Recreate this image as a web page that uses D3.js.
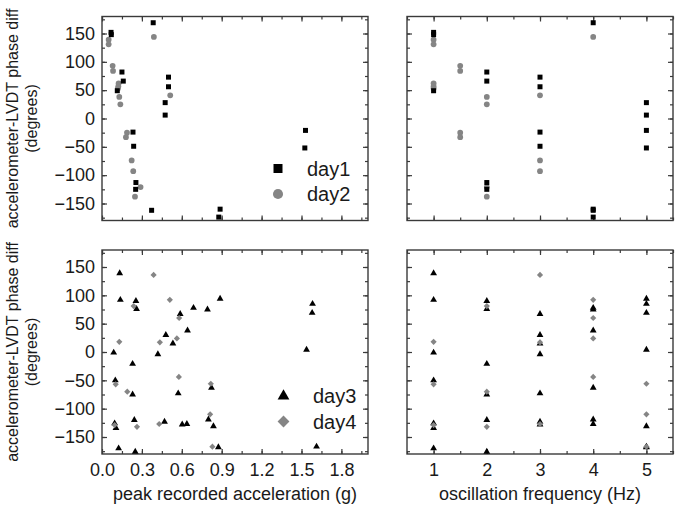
<!DOCTYPE html>
<html>
<head>
<meta charset="utf-8">
<script src="https://cdn.jsdelivr.net/npm/d3@7"></script>
<style>
  body { margin: 0; background: #fff; }
  text { font-family: "Liberation Sans", Arial, sans-serif; fill: #1a1a1a; }
</style>
</head>
<body>
<div id="chart"></div>
<script>
// tick labels
const accTicks = [0, 0.3, 0.6, 0.9, 1.2, 1.5, 1.8];
const freqTicks = [1, 2, 3, 4, 5];
const phaseTicks = [-150, -100, -50, 0, 50, 100, 150];

// day1 (squares)
const day1Acc   = [0.068, 0.07, 0.115, 0.15, 0.16, 0.255, 0.253, 0.50, 0.50, 0.233, 0.238, 0.385, 0.373, 0.888, 0.878, 0.475, 0.475, 1.53, 1.525];
const day1Freq  = [1, 1, 1, 2, 2, 2, 2, 3, 3, 3, 3, 4, 4, 4, 4, 5, 5, 5, 5];
const day1Phase = [152, 148, 49, 82, 66, -113, -125, 73, 56, -24, -49, 169, -162, -160, -174, 28, 6, -21, -52];

// day2 (circles)
const day2Acc   = [0.05, 0.05, 0.125, 0.123, 0.12, 0.08, 0.083, 0.188, 0.18, 0.13, 0.138, 0.29, 0.248, 0.223, 0.235, 0.513, 0.39];
const day2Freq  = [1, 1, 1, 1, 1, 1.5, 1.5, 1.5, 1.5, 2, 2, 2, 2, 3, 3, 3, 4];
const day2Phase = [139, 131, 62, 57, 53, 93, 84, -25, -33, 38, 25, -121, -138, -74, -93, 41, 144];

// day3 (triangles)
const day3Acc   = [0.133, 0.138, 0.088, 0.10, 0.095, 0.105, 0.125,
                   0.255, 0.26, 0.23, 0.23, 0.243, 0.25,
                   0.588, 0.48, 0.533, 0.42, 0.573, 0.47, 0.603,
                   0.688, 0.793, 0.643, 0.823, 0.80, 0.638,
                   0.888, 1.583, 1.58, 1.538, 0.838, 0.875, 1.613];
const day3Freq  = [1, 1, 1, 1, 1, 1, 1,
                   2, 2, 2, 2, 2, 2,
                   3, 3, 3, 3, 3, 3, 3,
                   4, 4, 4, 4, 4, 4,
                   5, 5, 5, 5, 5, 5, 5];
const day3Phase = [139, 92, -1, -50, -126, -134, -170,
                   90, 76, -21, -75, -120, -176,
                   67, 30, 15, -4, -73, -123, -128,
                   78, 75, 38, -63, -119, -127,
                   94, 85, 69, 4, -131, -168, -167];

// day4 (diamonds)
const day4Acc   = [0.13, 0.103, 0.095, 0.238, 0.19, 0.263, 0.388, 0.435, 0.43, 0.51, 0.58, 0.563, 0.578, 0.818, 0.813, 0.83];
const day4Freq  = [1, 1, 1, 2, 2, 2, 3, 3, 3, 4, 4, 4, 4, 5, 5, 5];
const day4Phase = [18, -57, -129, 81, -70, -132, 136, 17, -127, 92, 60, 24, -44, -56, -110, -167];

const W = 682, H = 515;
const pw = 266, ph = 204;
const black = "#000", grey = "#858585", frame = "#3a3a3a";

const svg = d3.select('#chart').append('svg')
    .attr('width', W).attr('height', H);

const xAcc = d3.scaleLinear().domain([0, 2.0]).range([0, pw]);
const xFreq = d3.scaleLinear().domain([0.5, 5.5]).range([0, pw]);
const y = d3.scaleLinear().domain([-180, 180]).range([ph, 0]);

const accMinor = d3.range(0, 2.0, 0.15);
const freqMinor = d3.range(0.5, 5.51, 0.5);
const phaseMinor = d3.range(-175, 176, 25);

function rows(acc, freq, phase) {
    return acc.map((a, i) => ({acc: a, freq: freq[i], phase: phase[i]}));
}
const day1 = rows(day1Acc, day1Freq, day1Phase);
const day2 = rows(day2Acc, day2Freq, day2Phase);
const day3 = rows(day3Acc, day3Freq, day3Phase);
const day4 = rows(day4Acc, day4Freq, day4Phase);

const sq = d3.symbol().type(d3.symbolSquare);
const circ = d3.symbol().type(d3.symbolCircle);
const tri = d3.symbol().type(d3.symbolTriangle);

const panels = [
    {x: 102, y: 16.5, xs: xAcc, xt: accTicks, xm: accMinor, xkey: 'acc', series: [[day2, 'circle'], [day1, 'square']], ylab: true, xlab: false},
    {x: 407, y: 16.5, xs: xFreq, xt: freqTicks, xm: freqMinor, xkey: 'freq', series: [[day2, 'circle'], [day1, 'square']], ylab: false, xlab: false},
    {x: 102, y: 250, xs: xAcc, xt: accTicks, xm: accMinor, xkey: 'acc', series: [[day3, 'triangle'], [day4, 'diamond']], ylab: true, xlab: true},
    {x: 407, y: 250, xs: xFreq, xt: freqTicks, xm: freqMinor, xkey: 'freq', series: [[day3, 'triangle'], [day4, 'diamond']], ylab: false, xlab: true}
];

function symPath(kind, big) {
    if (kind === 'square') return sq.size(big ? 81 : 25)();
    if (kind === 'circle') return circ.size(big ? 80 : 26)();
    if (kind === 'triangle') return tri.size(big ? 60 : 20)();
    return sq.size(big ? 70 : 19)();
}
function symFill(kind) {
    return (kind === 'square' || kind === 'triangle') ? black : grey;
}
function symRot(kind) { return kind === 'diamond' ? ' rotate(45)' : ''; }

function styleAxis(g) {
    g.select('.domain').remove();
    g.selectAll('line').attr('stroke', frame).attr('stroke-width', 1.2);
    g.selectAll('text').attr('font-size', 18).attr('fill', '#1a1a1a')
        .attr('font-family', '"Liberation Sans", Arial, sans-serif');
}

panels.forEach((p) => {
    const g = svg.append('g').attr('transform', 'translate(' + p.x + ',' + p.y + ')');

    // minor ticks, all four sides, pointing inward
    g.append('g').attr('transform', 'translate(0,' + ph + ')')
        .call(d3.axisBottom(p.xs).tickValues(p.xm).tickSize(-3).tickFormat('')).call(styleAxis);
    g.append('g')
        .call(d3.axisTop(p.xs).tickValues(p.xm).tickSize(-3).tickFormat('')).call(styleAxis);
    g.append('g')
        .call(d3.axisLeft(y).tickValues(phaseMinor).tickSize(-3).tickFormat('')).call(styleAxis);
    g.append('g').attr('transform', 'translate(' + pw + ',0)')
        .call(d3.axisRight(y).tickValues(phaseMinor).tickSize(-3).tickFormat('')).call(styleAxis);

    // major ticks
    g.append('g').attr('transform', 'translate(0,' + ph + ')')
        .call(d3.axisBottom(p.xs).tickValues(p.xt).tickSize(-5).tickPadding(9)
            .tickFormat(p.xlab ? (p.xkey === 'acc' ? d3.format('.1f') : d3.format('d')) : ''))
        .call(styleAxis);
    g.append('g')
        .call(d3.axisTop(p.xs).tickValues(p.xt).tickSize(-5).tickFormat('')).call(styleAxis);
    g.append('g')
        .call(d3.axisLeft(y).tickValues(phaseTicks).tickSize(-5).tickPadding(7)
            .tickFormat(p.ylab ? d3.format('d') : ''))
        .call(styleAxis);
    g.append('g').attr('transform', 'translate(' + pw + ',0)')
        .call(d3.axisRight(y).tickValues(phaseTicks).tickSize(-5).tickFormat('')).call(styleAxis);

    g.append('rect').attr('width', pw).attr('height', ph)
        .attr('fill', 'none').attr('stroke', frame).attr('stroke-width', 1.4);

    p.series.forEach(([data, kind]) => {
        g.selectAll(null).data(data).enter().append('path')
            .attr('d', symPath(kind, false))
            .attr('fill', symFill(kind))
            .attr('transform', (d) => 'translate(' + p.xs(d[p.xkey]) + ',' + y(d.phase) + ')' + symRot(kind));
    });
});

// legends
const legends = [
    {x: 278, y: 168.5, tx: 307, items: [['square', 'day1'], ['circle', 'day2']]},
    {x: 283.5, y: 396, tx: 313, items: [['triangle', 'day3'], ['diamond', 'day4']]}
];
legends.forEach((l) => {
    l.items.forEach(([kind, label], i) => {
        const yy = l.y + i * 25.5;
        svg.append('path').attr('d', symPath(kind, true)).attr('fill', symFill(kind))
            .attr('transform', 'translate(' + l.x + ',' + yy + ')' + symRot(kind));
        svg.append('text').attr('x', l.tx).attr('y', yy + 7)
            .attr('font-size', 20).text(label);
    });
});

// axis titles
svg.append('text').attr('x', 235).attr('y', 500).attr('text-anchor', 'middle')
    .attr('font-size', 18).text('peak recorded acceleration (g)');
svg.append('text').attr('x', 540).attr('y', 500).attr('text-anchor', 'middle')
    .attr('font-size', 18).text('oscillation frequency (Hz)');

[118.5, 352].forEach((cy) => {
    const t = svg.append('g').attr('transform', 'translate(0,' + cy + ') rotate(-90)');
    t.append('text').attr('x', 0).attr('y', 17.5).attr('text-anchor', 'middle')
        .attr('font-size', 16).text('accelerometer-LVDT phase diff');
    t.append('text').attr('x', 0).attr('y', 37).attr('text-anchor', 'middle')
        .attr('font-size', 16).text('(degrees)');
});
</script>
</body>
</html>
